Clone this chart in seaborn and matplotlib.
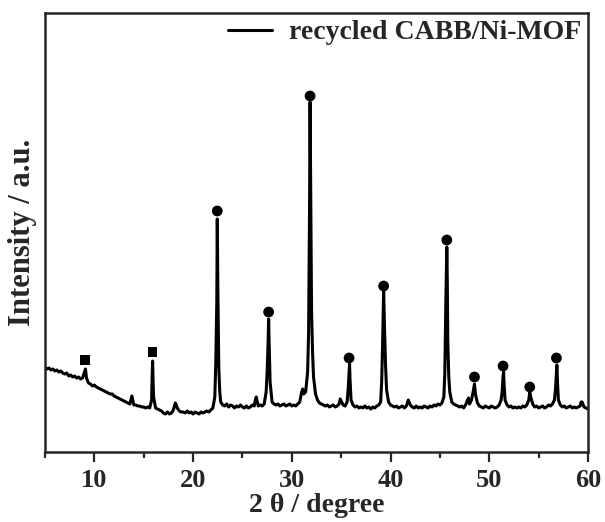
import numpy as np
import pandas as pd
import seaborn as sns
import matplotlib.pyplot as plt
from matplotlib.ticker import MultipleLocator

# background trace, read every 0.2 degree (intensity in arbitrary units)
theta_grid = np.round(np.arange(5, 60.001, 0.2), 1)
counts_grid = [
    85, 83, 84, 82, 83, 81, 82, 80, 81, 79,         # 5.0 - 6.8
    78, 79, 76, 77, 75, 76, 74, 75, 73, 74,         # 7.0 - 8.8
    80, 74, 69, 68, 66, 67, 65, 64, 63, 62,         # 9.0 - 10.8
    61, 60, 59, 58, 58, 56, 55, 54, 53, 52,         # 11.0 - 12.8
    51, 50, 49, 48, 56, 47, 47, 46, 46, 45,         # 13.0 - 14.8
    45, 44, 45, 44, 52, 55, 44, 43, 42, 41,         # 15.0 - 16.8
    39, 38, 40, 38, 39, 42, 49, 44, 41, 40,         # 17.0 - 18.8
    40, 39, 41, 39, 40, 38, 40, 39, 38, 40,         # 19.0 - 20.8
    39, 40, 41, 40, 42, 44, 55, 150, 85, 50,        # 21.0 - 22.8
    47, 46, 48, 45, 47, 46, 44, 46, 45, 47,         # 23.0 - 24.8
    45, 44, 46, 44, 45, 47, 46, 55, 46, 47,         # 25.0 - 26.8
    46, 48, 60, 110, 70, 50, 48, 47, 48, 46,        # 27.0 - 28.8
    47, 48, 46, 47, 48, 46, 47, 46, 48, 50,         # 29.0 - 30.8
    60, 58, 60, 80, 250, 140, 75, 58, 52, 49,       # 31.0 - 32.8
    48, 47, 46, 47, 45, 46, 47, 45, 46, 48,         # 33.0 - 34.8
    51, 47, 46, 50, 80, 52, 47, 45, 46, 44,         # 35.0 - 36.8
    45, 44, 46, 44, 45, 43, 45, 44, 46, 47,         # 37.0 - 38.8
    50, 110, 120, 62, 50, 47, 46, 45, 46, 44,       # 39.0 - 40.8
    45, 46, 44, 46, 52, 47, 45, 44, 46, 44,         # 41.0 - 42.8
    45, 44, 46, 45, 44, 46, 45, 47, 46, 48,         # 43.0 - 44.8
    47, 49, 55, 150, 110, 60, 50, 48, 47, 46,       # 45.0 - 46.8
    45, 46, 44, 47, 52, 48, 52, 62, 58, 49,         # 47.0 - 48.8
    46, 45, 44, 46, 45, 44, 46, 45, 44, 45,         # 49.0 - 50.8
    47, 52, 76, 52, 47, 45, 46, 44, 45, 44,         # 51.0 - 52.8
    45, 44, 46, 45, 47, 52, 55, 48, 45, 46,         # 53.0 - 54.8
    44, 45, 46, 44, 45, 47, 46, 48, 52, 80,         # 55.0 - 56.8
    52, 47, 45, 46, 44, 45, 46, 44, 45, 44,         # 57.0 - 58.8
    45, 46, 50, 45, 44, 43,                         # 59.0 - 60.0
]

# extra points on the sharp reflections
theta_peaks = [9.1, 15.85, 15.9, 15.95, 18.3, 22.3, 22.45, 22.5, 22.7, 26.3,
               27.5, 27.65, 27.7, 31.1, 31.7, 31.85, 31.9, 31.95, 32.1, 34.9,
               35.7, 35.85, 35.9, 39.1, 39.3, 39.5, 45.5, 45.7, 45.75, 45.9,
               47.9, 48.5, 51.3, 51.45, 51.5, 54.1, 56.7, 56.85, 56.9, 59.3]
counts_peaks = [83, 75, 91, 70, 47, 90, 233, 170, 60, 52,
                80, 133, 110, 63, 120, 350, 280, 200, 100, 53,
                62, 88, 72, 70, 162, 85, 80, 205, 170, 75,
                54, 68, 60, 80, 68, 60, 62, 87, 72, 50]

# phase markers above the reflections
square_theta = [9.05, 15.9]
square_y = [92, 100]
circle_theta = [22.45, 27.65, 31.85, 35.8, 39.3, 45.7, 48.5, 51.4, 54.1, 56.8]
circle_y = [241, 140, 356, 94, 166, 212, 75, 86, 65, 94]

xrd = pd.concat([
    pd.DataFrame({"theta": theta_grid, "counts": counts_grid}),
    pd.DataFrame({"theta": theta_peaks, "counts": counts_peaks}),
]).sort_values("theta")

sns.set_style("ticks")
plt.rcParams["font.family"] = ["Liberation Serif", "DejaVu Serif"]
plt.rcParams["font.weight"] = "bold"

fig = plt.figure(figsize=(6.05, 5.22), dpi=100)
ax = fig.add_axes([45 / 605, 70 / 522, 543 / 605, 439 / 522])

sns.lineplot(data=xrd, x="theta", y="counts", ax=ax, color="black",
             linewidth=2.2, estimator=None, sort=True,
             label="recycled CABB/Ni-MOF")
sns.scatterplot(x=square_theta, y=square_y, ax=ax, marker="s", s=45,
                color="black", edgecolor="none")
sns.scatterplot(x=circle_theta, y=circle_y, ax=ax, marker="o", s=60,
                color="black", edgecolor="none")

ax.set_xlim(5, 60)
ax.set_ylim(0, 439)
ax.xaxis.set_major_locator(MultipleLocator(10))
ax.xaxis.set_minor_locator(MultipleLocator(5))
ax.set_yticks([])
ax.tick_params(axis="x", which="major", direction="out", length=7, width=1.6,
               labelsize=19, pad=5)
ax.tick_params(axis="x", which="minor", direction="out", length=4, width=1.6)
for lbl in ax.get_xticklabels():
    lbl.set_fontweight("bold")
for sp in ax.spines.values():
    sp.set_linewidth(1.8)
    sp.set_visible(True)

ax.set_xlabel("2 θ / degree", fontsize=20, fontweight="bold", labelpad=1)
ax.set_ylabel("Intensity / a.u.", fontsize=22, fontweight="bold", labelpad=6)

ax.legend(loc="upper right", frameon=False, handlelength=1.6,
          handletextpad=0.6, borderaxespad=0.05, borderpad=0.2,
          prop={"weight": "bold", "size": 20})

fig.savefig("out.png", dpi=100)
